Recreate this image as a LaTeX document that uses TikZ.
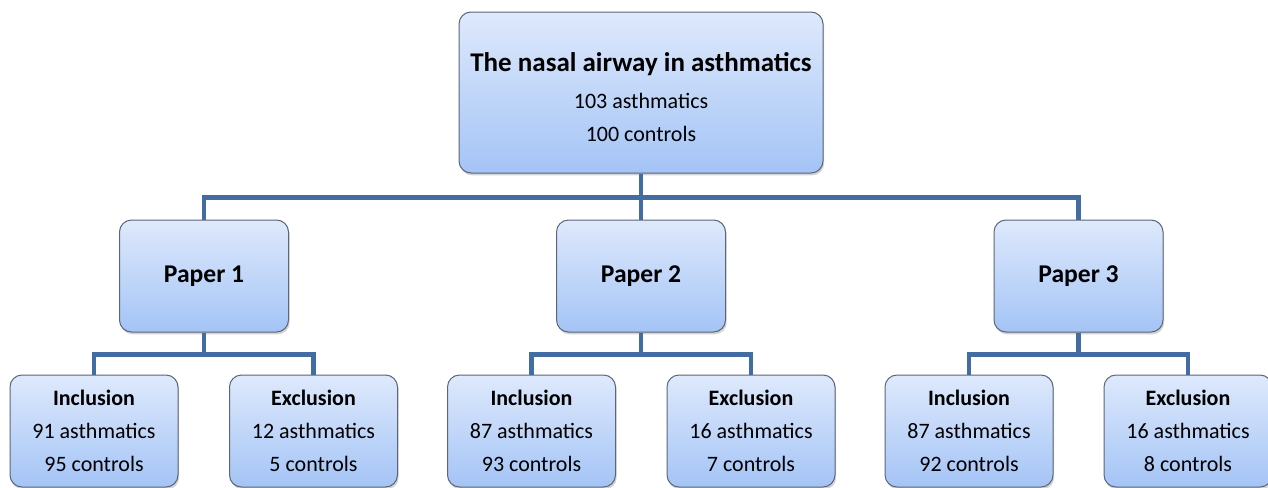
\documentclass[tikz,border=0pt]{standalone}
\usepackage{fontspec}
\setmainfont{Carlito}
\usetikzlibrary{shadows}

\definecolor{boxtop}{RGB}{222,233,252}
\definecolor{boxbottom}{RGB}{164,196,246}
\definecolor{boxline}{RGB}{92,102,120}
\definecolor{linkblue}{RGB}{66,108,162}

\tikzset{
  box/.style={draw=boxline, line width=0.5pt, rounded corners=6pt,
    top color=boxtop, bottom color=boxbottom, align=center, inner sep=0pt,
    drop shadow={shadow xshift=0.6pt, shadow yshift=-1.2pt, opacity=0.35}},
  topbox/.style={box, minimum width=182pt, minimum height=80.5pt,
    font=\fontsize{11}{16.5}\selectfont},
  paperbox/.style={box, minimum width=84.5pt, minimum height=56pt,
    font=\fontsize{12.8}{14}\selectfont\bfseries},
  groupbox/.style={box, minimum width=84pt, minimum height=56pt,
    font=\fontsize{11}{16.5}\selectfont},
  link/.style={draw=linkblue, line width=2.4pt}
}

\begin{document}
\begin{tikzpicture}[x=0.5pt, y=-0.5pt]
  \useasboundingbox (0,0) rectangle (1268,487);

  \node[topbox] (top) at (641,92.5)
    {\rule{0pt}{14pt}{\fontsize{13.5}{15}\selectfont\bfseries The nasal airway in asthmatics}\\[2pt]
     103 asthmatics\\100 controls};

  \node[paperbox] (p1) at (204,276) {Paper 1};
  \node[paperbox] (p2) at (641,276) {Paper 2};
  \node[paperbox] (p3) at (1078.5,276) {Paper 3};

  \node[groupbox] (inc1) at (94,431) {\textbf{Inclusion}\\91 asthmatics\\95 controls};
  \node[groupbox] (exc1) at (313.5,431) {\textbf{Exclusion}\\12 asthmatics\\5 controls};
  \node[groupbox] (inc2) at (531.5,431) {\textbf{Inclusion}\\87 asthmatics\\93 controls};
  \node[groupbox] (exc2) at (751,431) {\textbf{Exclusion}\\16 asthmatics\\7 controls};
  \node[groupbox] (inc3) at (969,431) {\textbf{Inclusion}\\87 asthmatics\\92 controls};
  \node[groupbox] (exc3) at (1188,431) {\textbf{Exclusion}\\16 asthmatics\\8 controls};

  \draw[link] (top.south) -- ++(0,24) -| (p1.north);
  \draw[link] (top.south) -- ++(0,24) -| (p3.north);
  \draw[link] (top.south) -- (p2.north);

  \draw[link] (p1.south) -- ++(0,22) -| (inc1.north);
  \draw[link] (p1.south) -- ++(0,22) -| (exc1.north);
  \draw[link] (p2.south) -- ++(0,22) -| (inc2.north);
  \draw[link] (p2.south) -- ++(0,22) -| (exc2.north);
  \draw[link] (p3.south) -- ++(0,22) -| (inc3.north);
  \draw[link] (p3.south) -- ++(0,22) -| (exc3.north);
\end{tikzpicture}
\end{document}
